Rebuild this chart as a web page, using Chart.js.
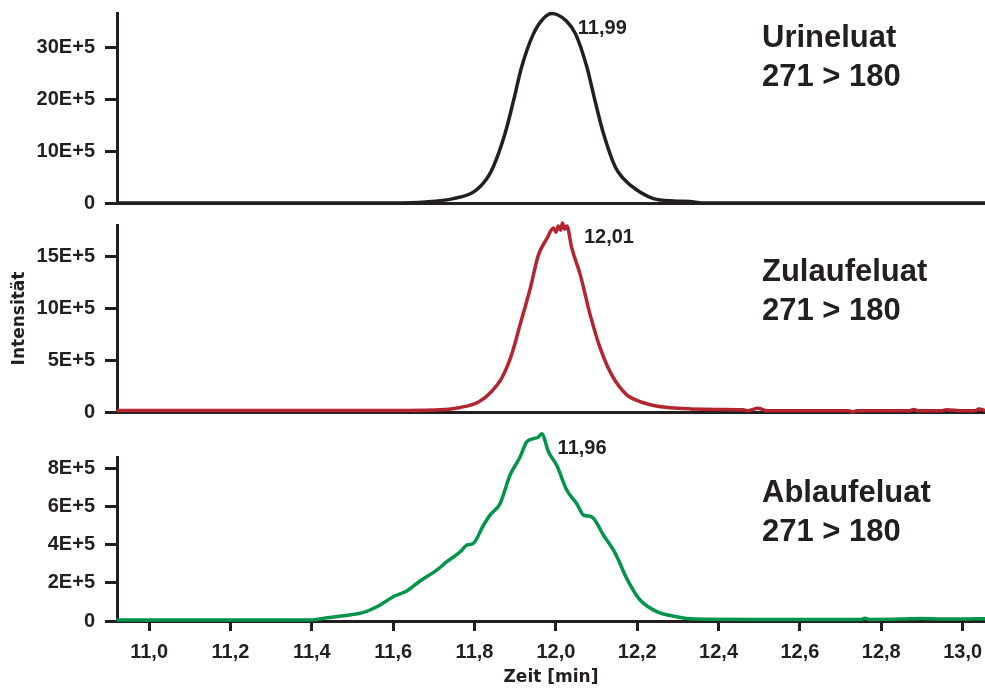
<!DOCTYPE html>
<html>
<head>
<meta charset="utf-8">
<script src="https://cdn.jsdelivr.net/npm/chart.js@4/dist/chart.umd.min.js"></script>
<style>
    html, body { margin: 0; padding: 0; background: #fff; }
    #wrap { position: relative; width: 985px; height: 695px; }
    #wrap canvas { position: absolute; left: 0; }
</style>
</head>
<body>
<div id="wrap">
    <canvas id="urinChart" width="985" height="212" style="top:0"></canvas>
    <canvas id="zulaufChart" width="985" height="208" style="top:212px"></canvas>
    <canvas id="ablaufChart" width="985" height="275" style="top:420px"></canvas>
</div>
<script>
// Werte in E+5
const urinTime = [10.92, 11.60, 11.68, 11.748, 11.797, 11.83, 11.846, 11.875, 11.896, 11.916, 11.945, 11.969, 11.99, 12.005, 12.025, 12.048, 12.076, 12.096, 12.117, 12.146, 12.166, 12.199, 12.24, 12.29, 12.33, 12.36, 13.055]
const urinValue = [0, 0, 0.2, 0.85, 2.1, 4.7, 6.95, 13.4, 19.8, 26.3, 32.7, 35.6, 36.6, 36.3, 35.2, 32.7, 26.3, 19.8, 13.4, 6.95, 4.7, 2.5, 0.85, 0.4, 0.3, 0, 0]

const zulaufTime = [10.92, 11.60, 11.715, 11.765, 11.81, 11.842, 11.867, 11.891, 11.912, 11.937, 11.957, 11.978, 11.994, 12.000, 12.006, 12.012, 12.016, 12.022, 12.027, 12.039, 12.06, 12.084, 12.109, 12.137, 12.174, 12.207, 12.223, 12.25, 12.281, 12.33, 12.40, 12.46, 12.47, 12.497, 12.52, 12.72, 12.73, 12.74, 12.87, 12.88, 12.89, 12.95, 12.96, 13.0, 13.03, 13.04, 13.055]
const zulaufValue = [0.15, 0.15, 0.22, 0.44, 0.96, 1.98, 3.27, 5.5, 8.4, 11.9, 15.1, 16.7, 17.7, 17.3, 17.9, 17.5, 18.2, 17.6, 17.9, 15.8, 13.2, 9.4, 6.15, 3.6, 1.66, 1.0, 0.8, 0.55, 0.4, 0.3, 0.25, 0.22, 0.12, 0.35, 0.12, 0.12, 0.0, 0.12, 0.12, 0.25, 0.12, 0.12, 0.22, 0.12, 0.12, 0.3, 0.15]

const ablaufTime = [10.92, 11.30, 11.396, 11.437, 11.478, 11.527, 11.568, 11.600, 11.633, 11.666, 11.707, 11.732, 11.765, 11.781, 11.797, 11.822, 11.838, 11.863, 11.887, 11.912, 11.928, 11.945, 11.957, 11.965, 11.982, 12.002, 12.027, 12.051, 12.068, 12.088, 12.117, 12.146, 12.174, 12.190, 12.207, 12.248, 12.297, 12.34, 12.50, 12.75, 12.76, 12.77, 12.85, 12.90, 12.95, 13.00, 13.055]
const ablaufValue = [0.05, 0.05, 0.05, 0.17, 0.28, 0.45, 0.84, 1.27, 1.57, 2.09, 2.66, 3.10, 3.62, 3.97, 4.06, 5.01, 5.54, 6.15, 7.62, 8.58, 9.36, 9.54, 9.62, 9.80, 8.84, 8.15, 6.84, 6.15, 5.54, 5.45, 4.49, 3.54, 2.23, 1.62, 1.10, 0.49, 0.22, 0.10, 0.08, 0.08, 0.14, 0.08, 0.1, 0.13, 0.1, 0.1, 0.12]

const xTickValues = [11.0, 11.2, 11.4, 11.6, 11.8, 12.0, 12.2, 12.4, 12.6, 12.8, 13.0]
const urinTicks = [0, 10, 20, 30]
const zulaufTicks = [0, 5, 10, 15]
const ablaufTicks = [0, 2, 4, 6, 8]

const peakTimes = [11.99, 12.01, 11.96]
const sampleNames = ['Urineluat', 'Zulaufeluat', 'Ablaufeluat']
const transition = '271 > 180'

const ink = '#231f20'
const tickFont = { family: '"Liberation Sans", Arial, sans-serif', size: 20, weight: 'bold' }
const titleFont = { family: '"DejaVu Sans", sans-serif', size: 17, weight: 'bold' }

Chart.defaults.color = ink
Chart.defaults.font.family = '"Liberation Sans", Arial, sans-serif'

const toPoints = (ts, vs) => ts.map((t, i) => ({ x: t, y: vs[i] }))

const labelPlugin = {
    id: 'sampleLabels',
    afterDatasetsDraw (chart, args, opts) {
        const ctx = chart.ctx
        const xs = chart.scales.x
        const ys = chart.scales.y
        const top = Math.max(...chart.data.datasets[0].data.map(p => p.y))
        ctx.save()
        ctx.fillStyle = ink
        ctx.font = 'bold 20px "Liberation Sans", Arial, sans-serif'
        ctx.textBaseline = 'middle'
        ctx.textAlign = 'left'
        ctx.fillText(opts.peak.toFixed(2).replace('.', ','),
            xs.getPixelForValue(opts.peak) + opts.dx, ys.getPixelForValue(top) + 15)
        ctx.font = 'bold 31px "Liberation Sans", Arial, sans-serif'
        ctx.textBaseline = 'alphabetic'
        ctx.fillText(opts.name, 762, opts.base)
        ctx.fillText(transition, 762, opts.base + 39)
        ctx.restore()
    },
}

const makePanel = (id, cfg) => {
    const bottomAxis = cfg.bottom
    new Chart(document.getElementById(id), {
        type: 'line',
        data: {
            datasets: [{
                data: toPoints(cfg.time, cfg.value),
                borderColor: cfg.color,
                borderWidth: 3.5,
                pointRadius: 0,
                cubicInterpolationMode: 'monotone',
                borderJoinStyle: 'round',
                clip: false,
            }],
        },
        plugins: [labelPlugin],
        options: {
            responsive: false,
            animation: false,
            layout: {
                padding: { top: cfg.padTop, bottom: cfg.padBottom, left: 0, right: 0 },
            },
            plugins: {
                legend: { display: false },
                tooltip: { enabled: false },
                sampleLabels: { peak: cfg.peak, dx: cfg.dx, name: cfg.name, base: cfg.base },
            },
            scales: {
                x: {
                    type: 'linear',
                    min: 10.921,
                    max: 13.055,
                    afterBuildTicks: scale => {
                        scale.ticks = xTickValues.map(v => ({ value: v }))
                    },
                    afterFit: scale => {
                        scale.height = bottomAxis ? 74 : 0
                        scale.paddingLeft = 0
                        scale.paddingRight = 0
                    },
                    border: { color: ink, width: 3 },
                    grid: {
                        display: bottomAxis,
                        drawTicks: bottomAxis,
                        drawOnChartArea: false,
                        tickLength: 10,
                        tickWidth: 3,
                        tickColor: ink,
                    },
                    ticks: {
                        display: bottomAxis,
                        font: tickFont,
                        color: ink,
                        padding: 9,
                        maxRotation: 0,
                        callback: v => v.toFixed(1).replace('.', ','),
                    },
                    title: {
                        display: bottomAxis,
                        text: 'Zeit [min]',
                        font: titleFont,
                        color: ink,
                        padding: { top: 0, bottom: 7 },
                    },
                },
                y: {
                    min: 0,
                    max: cfg.yMax,
                    afterBuildTicks: scale => {
                        scale.ticks = cfg.ticks.map(v => ({ value: v }))
                    },
                    afterFit: scale => {
                        scale.width = 117
                        scale.paddingTop = 0
                        scale.paddingBottom = 0
                    },
                    border: { color: ink, width: 3 },
                    grid: {
                        drawOnChartArea: false,
                        tickLength: 12,
                        tickWidth: 3,
                        tickColor: ink,
                    },
                    ticks: {
                        font: tickFont,
                        color: ink,
                        padding: 10,
                        callback: v => v === 0 ? '0' : v + 'E+5',
                    },
                    title: {
                        display: !!cfg.yTitle,
                        text: cfg.yTitle || '',
                        font: titleFont,
                        color: ink,
                        padding: { top: 9, bottom: 0 },
                    },
                },
            },
        },
    })
}

makePanel('urinChart', {
    time: urinTime, value: urinValue, ticks: urinTicks, yMax: 36.68,
    color: '#231f20', peak: peakTimes[0], dx: 26, name: sampleNames[0], base: 47,
    padTop: 13, padBottom: 9, bottom: false,
})

makePanel('zulaufChart', {
    time: zulaufTime, value: zulaufValue, ticks: zulaufTicks, yMax: 18.0,
    color: '#b3252f', peak: peakTimes[1], dx: 24, name: sampleNames[1], base: 69,
    padTop: 13, padBottom: 8, bottom: false, yTitle: 'Intensität',
})

makePanel('ablaufChart', {
    time: ablaufTime, value: ablaufValue, ticks: ablaufTicks, yMax: 8.58,
    color: '#00954a', peak: peakTimes[2], dx: 18, name: sampleNames[2], base: 82,
    padTop: 37, padBottom: 0, bottom: true,
})
</script>
</body>
</html>
